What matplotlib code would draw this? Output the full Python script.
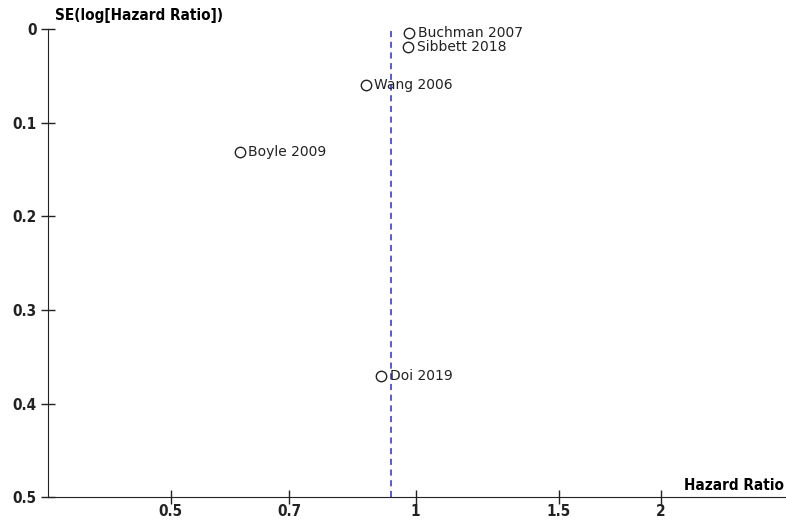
import numpy as np
import matplotlib
matplotlib.use('Agg')
import matplotlib.pyplot as plt

# Study estimates for the funnel plot
studies = ['Buchman 2007', 'Sibbett 2018', 'Wang 2006', 'Boyle 2009', 'Doi 2019']
hazard_ratio = [0.983, 0.980, 0.868, 0.608, 0.908]
se_log_hr = [0.004, 0.019, 0.060, 0.131, 0.371]
pooled_hr = 0.934

x_ticks = [0.5, 0.7, 1, 1.5, 2]
x_tick_labels = ['0.5', '0.7', '1', '1.5', '2']
y_ticks = [0, 0.1, 0.2, 0.3, 0.4, 0.5]
y_tick_labels = ['0', '0.1', '0.2', '0.3', '0.4', '0.5']

bold_font = {'family': 'DejaVu Sans', 'stretch': 'condensed',
             'weight': 'bold', 'size': 11}

fig = plt.figure(figsize=(7.86, 5.2), dpi=100)
ax = fig.add_axes([0.061, 0.044, 0.939, 0.9])

ax.plot(hazard_ratio, se_log_hr, linestyle='none', marker='o', ms=7.5,
        mfc='white', mec='#222222', mew=1.0, clip_on=False, zorder=3)
for name, hr, se in zip(studies, hazard_ratio, se_log_hr):
    ax.annotate(name, (hr, se), xytext=(6, 0), textcoords='offset points',
                va='center', ha='left', fontsize=10, color='#222222',
                family='DejaVu Sans')

ax.axvline(pooled_hr, color='#2a2ae0', linestyle=(0, (4, 3)), lw=1.1,
           zorder=2)

ax.set_xscale('log')
ax.set_xlim(np.exp(-1.04), np.exp(1.048))
ax.set_ylim(0.5, 0)
ax.set_xticks(x_ticks)
ax.set_xticklabels(x_tick_labels, fontdict=bold_font)
ax.minorticks_off()
ax.set_yticks(y_ticks)
ax.set_yticklabels(y_tick_labels, fontdict=bold_font)
ax.tick_params(axis='both', direction='inout', length=10, width=1,
               colors='#222222')
ax.tick_params(axis='x', pad=0)
ax.tick_params(axis='y', pad=3)

for side in ['top', 'right']:
    ax.spines[side].set_visible(False)
ax.spines['left'].set_color('#222222')
ax.spines['bottom'].set_color('#222222')

fig.text(0.07, 0.97, 'SE(log[Hazard Ratio])', ha='left', va='center',
         **bold_font)
fig.text(0.997, 0.067, 'Hazard Ratio', ha='right', va='center',
         **bold_font)

plt.savefig('out.png', dpi=100)
